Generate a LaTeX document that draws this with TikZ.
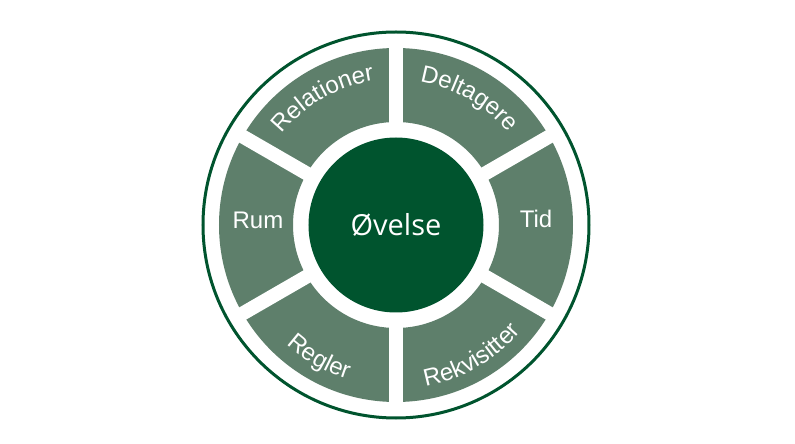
\documentclass[tikz,border=0pt]{standalone}
\usepackage{fontspec}
\setmainfont{Liberation Sans}
\newfontfamily\midfont{Open Sans}
\usetikzlibrary{decorations.text}
\definecolor{ringgreen}{RGB}{0,84,46}
\definecolor{feltgreen}{RGB}{94,127,107}
\newcommand\feltsize{\fontsize{24}{24}\selectfont}

\begin{document}
\begin{tikzpicture}[%
                    gap/.style={draw=white,line width=14pt},
                    midt/.style={circle,fill=ringgreen,inner sep=0,minimum size=175pt,
                                 text=white,font=\midfont\fontsize{29}{29}\selectfont},
                    felt/.style={text=white,font=\feltsize},
                    bue/.style={decorate,decoration={text along path,text align=center,
                                text color=white,text={|\feltsize|#1}}}
        ]
    \useasboundingbox (-396pt,-219pt) rectangle (399pt,225pt);
    \draw[ringgreen,line width=3pt] (0,0) circle[radius=193pt];
    \fill[feltgreen,even odd rule] (0,0) circle[radius=177pt] (0,0) circle[radius=103pt];
    \foreach \a in {30,90,...,330}
        \draw[gap] (\a:95pt) -- (\a:185pt);
    \node[midt] (ovelse) at (0,0) {Øvelse};
    \node[felt] (rum) at (-138pt,5pt) {Rum};
    \node[felt] (tid) at (140pt,6pt) {Tid};
    % tekst langs buerne
    \path[bue=Relationer] (150:146pt) arc[start angle=150,end angle=90,radius=146pt];
    \path[bue=Deltagere] (90:145pt) arc[start angle=90,end angle=30,radius=145pt];
    \path[bue=Regler] (210:162pt) arc[start angle=210,end angle=270,radius=162pt];
    \path[bue=Rekvisitter] (270:164pt) arc[start angle=270,end angle=330,radius=164pt];
\end{tikzpicture}
\end{document}
